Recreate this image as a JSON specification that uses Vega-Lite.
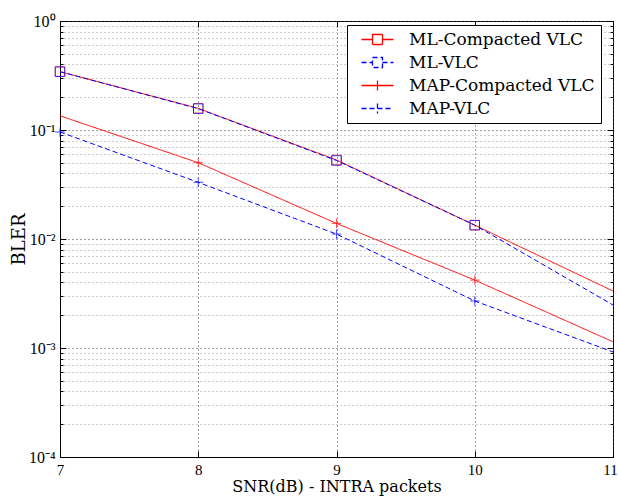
{
  "$schema": "https://vega.github.io/schema/vega-lite/v6.json",
  "width": 553,
  "height": 436,
  "autosize": "none",
  "padding": {"left": 60, "top": 21, "right": 5, "bottom": 40},
  "background": "white",
  "config": {
    "view": {"stroke": "black", "strokeWidth": 1},
    "font": "DejaVu Serif"
  },
  "data": {
    "values": [
      {"snr": 7, "bler": 0.343, "series": "ML-Compacted VLC", "marker": true},
      {"snr": 8, "bler": 0.158, "series": "ML-Compacted VLC", "marker": true},
      {"snr": 9, "bler": 0.0531, "series": "ML-Compacted VLC", "marker": true},
      {"snr": 10, "bler": 0.0134, "series": "ML-Compacted VLC", "marker": true},
      {"snr": 11, "bler": 0.00333, "series": "ML-Compacted VLC", "marker": false},
      {"snr": 7, "bler": 0.343, "series": "ML-VLC", "marker": true},
      {"snr": 8, "bler": 0.157, "series": "ML-VLC", "marker": true},
      {"snr": 9, "bler": 0.0525, "series": "ML-VLC", "marker": true},
      {"snr": 10, "bler": 0.0134, "series": "ML-VLC", "marker": true},
      {"snr": 11, "bler": 0.00248, "series": "ML-VLC", "marker": false},
      {"snr": 7, "bler": 0.135, "series": "MAP-Compacted VLC", "marker": false},
      {"snr": 8, "bler": 0.0501, "series": "MAP-Compacted VLC", "marker": true},
      {"snr": 9, "bler": 0.0139, "series": "MAP-Compacted VLC", "marker": true},
      {"snr": 10, "bler": 0.0042, "series": "MAP-Compacted VLC", "marker": true},
      {"snr": 11, "bler": 0.00114, "series": "MAP-Compacted VLC", "marker": false},
      {"snr": 7, "bler": 0.0959, "series": "MAP-VLC", "marker": true},
      {"snr": 8, "bler": 0.0331, "series": "MAP-VLC", "marker": true},
      {"snr": 9, "bler": 0.0111, "series": "MAP-VLC", "marker": true},
      {"snr": 10, "bler": 0.0027, "series": "MAP-VLC", "marker": true},
      {"snr": 11, "bler": 0.00092, "series": "MAP-VLC", "marker": false}
    ]
  },
  "resolve": {"axis": {"x": "independent", "y": "independent"}},
  "layer": [
    {
      "mark": {"type": "line", "strokeWidth": 1, "clip": true},
      "encoding": {
        "x": {
          "field": "snr", "type": "quantitative",
          "scale": {"domain": [7, 11], "nice": false, "zero": false},
          "axis": {
            "values": [7, 8, 9, 10, 11],
            "title": "SNR(dB) - INTRA packets",
            "titleFont": "DejaVu Serif", "titleFontSize": 16, "titleFontWeight": "normal", "titleColor": "black",
            "titlePadding": 1,
            "labelFont": "Liberation Serif", "labelFontSize": 15, "labelColor": "black",
            "labelFlush": false, "labelPadding": 11,
            "labelOffset": {"condition": {"test": "datum.value == 11", "value": -3}, "value": 0},
            "tickSize": -6, "tickColor": "black",
            "domainColor": "black",
            "grid": true, "gridColor": "#444", "gridDash": [1, 3], "gridWidth": 1
          }
        },
        "y": {
          "field": "bler", "type": "quantitative",
          "scale": {"type": "log", "domain": [0.0001, 1], "nice": false},
          "axis": {
            "values": [0.0001,0.0002,0.0003,0.0004,0.0005,0.0006,0.0007,0.0008,0.0009,0.001,0.002,0.003,0.004,0.005,0.006,0.007,0.008,0.009,0.01,0.02,0.03,0.04,0.05,0.06,0.07,0.08,0.09,0.1,0.2,0.3,0.4,0.5,0.6,0.7,0.8,0.9,1],
            "labelExpr": "abs(log(datum.value)/LN10 - round(log(datum.value)/LN10)) < 1e-6 ? ['10⁻⁴','10⁻³','10⁻²','10⁻¹','10⁰'][round(log(datum.value)/LN10)+4] : ''",
            "labelOverlap": false, "labelFlush": false,
            "title": "BLER",
            "titleFont": "DejaVu Serif", "titleFontSize": 18, "titleFontWeight": "normal", "titleColor": "black",
            "titlePadding": 0,
            "labelFont": "Liberation Serif", "labelFontSize": 16, "labelColor": "black",
            "labelPadding": 11,
            "tickColor": "black",
            "tickSize": {"condition": {"test": "abs(log(datum.value)/LN10 - round(log(datum.value)/LN10)) < 1e-6", "value": -6}, "value": -3},
            "domainColor": "black",
            "grid": true, "gridDash": [1, 3], "gridWidth": 1,
            "gridColor": {"condition": {"test": "abs(log(datum.value)/LN10 - round(log(datum.value)/LN10)) < 1e-6", "value": "#444"}, "value": "#999"}
          }
        },
        "color": {
          "field": "series", "type": "nominal",
          "scale": {"domain": ["ML-Compacted VLC", "ML-VLC", "MAP-Compacted VLC", "MAP-VLC"], "range": ["#ff0000", "#0000ff", "#ff0000", "#0000ff"]},
          "legend": {
            "title": null,
            "orient": "none", "legendX": 287, "legendY": 4,
            "fillColor": "white", "strokeColor": "black", "padding": 6,
            "labelFont": "DejaVu Serif", "labelFontSize": 17, "labelColor": "black",
            "labelOffset": 23, "symbolOffset": 16, "symbolSize": 100, "symbolStrokeWidth": 1.3,
            "rowPadding": 5, "labelLimit": 400,
            "encode": {
              "symbols": {
                "update": {
                  "shape": {"signal": "datum.index < 2 ? 'M-3.2,0H-1M1,0H3.2M-1,-1H1V1H-1Z' : 'M-3.2,0H3.2M0,-1V1'"},
                  "stroke": {"signal": "datum.index == 0 || datum.index == 2 ? '#ff0000' : '#0000ff'"},
                  "strokeDash": {"signal": "datum.index == 0 || datum.index == 2 ? [] : [5, 3]"},
                  "strokeWidth": {"value": 1.3},
                  "strokeOpacity": {"value": 1},
                  "opacity": {"value": 1},
                  "fill": {"value": "transparent"}
                }
              }
            }
          }
        },
        "strokeDash": {
          "field": "series", "type": "nominal",
          "scale": {"domain": ["ML-Compacted VLC", "ML-VLC", "MAP-Compacted VLC", "MAP-VLC"], "range": [[1, 0], [5, 3], [1, 0], [5, 3]]}
        }
      }
    },
    {
      "transform": [{"filter": "datum.marker && indexof(datum.series, 'ML') == 0"}],
      "mark": {"type": "point", "shape": "square", "filled": false, "strokeWidth": 1, "size": 90, "clip": false},
      "encoding": {
        "x": {"field": "snr", "type": "quantitative", "axis": null},
        "y": {"field": "bler", "type": "quantitative", "axis": null},
        "stroke": {
          "field": "series", "type": "nominal", "legend": null,
          "scale": {"domain": ["ML-Compacted VLC", "ML-VLC", "MAP-Compacted VLC", "MAP-VLC"], "range": ["#ff0000", "#0000ff", "#ff0000", "#0000ff"]}
        }
      }
    },
    {
      "transform": [{"filter": "datum.marker && indexof(datum.series, 'MAP') == 0"}],
      "mark": {"type": "point", "shape": "M-1,0H1M0,-1V1", "filled": false, "strokeWidth": 1, "size": 90, "clip": false},
      "encoding": {
        "x": {"field": "snr", "type": "quantitative", "axis": null},
        "y": {"field": "bler", "type": "quantitative", "axis": null},
        "stroke": {
          "field": "series", "type": "nominal", "legend": null,
          "scale": {"domain": ["ML-Compacted VLC", "ML-VLC", "MAP-Compacted VLC", "MAP-VLC"], "range": ["#ff0000", "#0000ff", "#ff0000", "#0000ff"]}
        }
      }
    },
    {
      "mark": {"type": "point", "opacity": 0},
      "encoding": {
        "x": {
          "field": "snr", "type": "quantitative",
          "axis": {"orient": "top", "values": [7, 8, 9, 10, 11], "labels": false, "title": null, "grid": false, "domain": false, "tickSize": -6, "tickColor": "black"}
        },
        "y": {
          "field": "bler", "type": "quantitative",
          "axis": {
            "orient": "right",
            "values": [0.0001,0.0002,0.0003,0.0004,0.0005,0.0006,0.0007,0.0008,0.0009,0.001,0.002,0.003,0.004,0.005,0.006,0.007,0.008,0.009,0.01,0.02,0.03,0.04,0.05,0.06,0.07,0.08,0.09,0.1,0.2,0.3,0.4,0.5,0.6,0.7,0.8,0.9,1],
            "labels": false, "title": null, "grid": false, "domain": false, "tickColor": "black",
            "tickSize": {"condition": {"test": "abs(log(datum.value)/LN10 - round(log(datum.value)/LN10)) < 1e-6", "value": -6}, "value": -3}
          }
        }
      }
    }
  ]
}
